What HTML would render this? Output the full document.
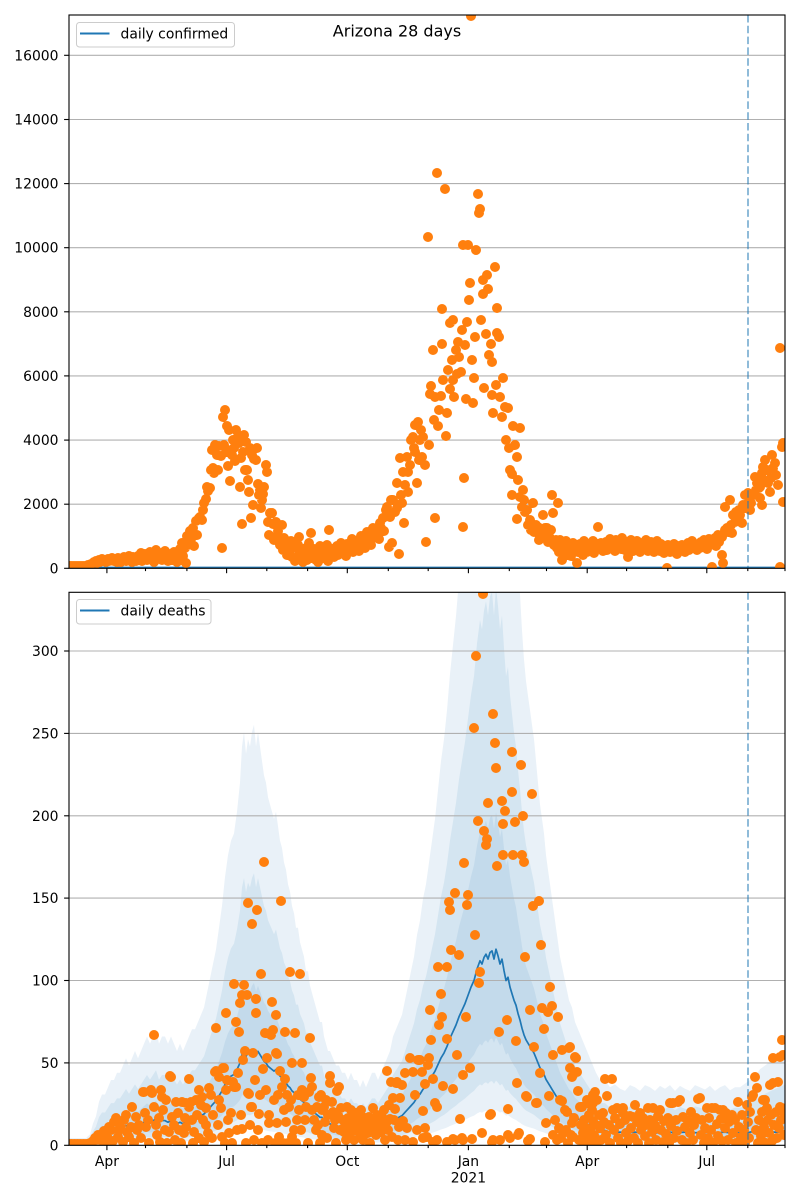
<!DOCTYPE html>
<html><head><meta charset="utf-8"><style>
html,body{margin:0;padding:0;background:#fff}
svg{display:block}
text{font-family:"DejaVu Sans","Liberation Sans",sans-serif;fill:#000}
</style></head><body>
<svg width="800" height="1200" viewBox="0 0 800 1200" xmlns="http://www.w3.org/2000/svg">
<defs>
<clipPath id="c1"><rect x="69" y="15" width="716" height="553.3"/></clipPath>
<clipPath id="c2"><rect x="69" y="592.3" width="716" height="553"/></clipPath>
<path id="band" d="M69,-1 L78,-1 L86,-1 L90,-1.5 L93,-3 L96,-4 L99,-6 L102,-7 L105,-7 L108,-8 L111,-9 L114,-9 L117,-10 L120,-10 L123,-11 L126,-12 L129,-11 L132,-12 L135,-13 L138,-12 L141,-13 L144,-14 L147,-15 L150,-14 L153,-15 L156,-16 L159,-14 L162,-15 L165,-15 L168,-14 L171,-15 L174,-14 L177,-13 L180,-14 L183,-13 L186,-14 L189,-15 L192,-16 L195,-16 L198,-17 L201,-18 L204,-19 L207,-21 L210,-23 L213,-25 L216,-27 L219,-30 L222,-33 L225,-37 L228,-40 L231,-42 L234,-43 L237,-46 L240,-50 L242,-55 L244,-57 L246,-54 L248,-56 L250,-55 L252,-57 L254,-58 L256,-55 L258,-57 L260,-55 L262,-53 L264,-51 L266,-50 L268,-48 L270,-47 L272,-46 L274,-45 L276,-46 L278,-44 L280,-42 L282,-41 L284,-39 L286,-38 L288,-36 L290,-35 L292,-33 L294,-32 L296,-30 L298,-30 L300,-28 L302,-27 L304,-26 L306,-24 L308,-24 L310,-22 L312,-21 L314,-20 L316,-19 L318,-18 L320,-17 L322,-17 L324,-15 L326,-14 L328,-13 L330,-13 L333,-12 L336,-11 L339,-11 L342,-10 L345,-10 L348,-9 L351,-10 L354,-9 L357,-9 L360,-8 L363,-9 L366,-8 L369,-9 L372,-10 L375,-10 L378,-9 L381,-10 L384,-11 L387,-12 L390,-13 L393,-15 L396,-16 L399,-17 L402,-18 L405,-20 L408,-22 L411,-24 L414,-26 L417,-29 L420,-31 L423,-34 L426,-36 L429,-39 L432,-42 L435,-45 L438,-49 L441,-53 L444,-56 L447,-60 L450,-65 L453,-69 L456,-73 L459,-78 L462,-82 L465,-86 L468,-91 L471,-96 L474,-100 L477,-107 L480,-112 L482,-110 L484,-114 L486,-116 L488,-113 L490,-117 L492,-118 L494,-113 L496,-119 L498,-115 L500,-110 L502,-113 L504,-106 L506,-100 L508,-102 L510,-96 L512,-92 L514,-88 L516,-85 L518,-80 L520,-76 L522,-71 L524,-67 L526,-64 L528,-62 L530,-60 L532,-58 L534,-56 L536,-53 L538,-50 L540,-47 L542,-45 L544,-43 L546,-40 L548,-38 L550,-36 L552,-34 L554,-32 L556,-30 L558,-28 L560,-26 L563,-24 L566,-22 L569,-20 L572,-19 L575,-17 L578,-16 L581,-15 L584,-14 L587,-13 L590,-12 L593,-11 L596,-10 L600,-9 L605,-9 L610,-8 L615,-8.4 L620,-7.8 L625,-7.5 L630,-8.3 L635,-8 L640,-7.5 L645,-8.3 L650,-8 L655,-7.5 L660,-8.2 L665,-7.8 L670,-8.3 L675,-7.5 L680,-8.2 L685,-7.8 L690,-7.5 L695,-8.3 L700,-8 L705,-7.7 L710,-8.2 L715,-7.5 L720,-8 L725,-8.3 L730,-7.6 L735,-8 L740,-8 L745,-8.5 L750,-9 L755,-9.5 L760,-10.5 L765,-11 L770,-11.5 L775,-12 L780,-12.5 L786,-13 L786,0 L69,0 Z"/>
</defs>

<rect width="800" height="1200" fill="#fff"/>

<!-- ============ TOP PANEL ============ -->
<g stroke="#b0b0b0" stroke-width="1.1">
<line x1="69" x2="785" y1="504.2" y2="504.2"/>
<line x1="69" x2="785" y1="440.1" y2="440.1"/>
<line x1="69" x2="785" y1="375.9" y2="375.9"/>
<line x1="69" x2="785" y1="311.8" y2="311.8"/>
<line x1="69" x2="785" y1="247.7" y2="247.7"/>
<line x1="69" x2="785" y1="183.6" y2="183.6"/>
<line x1="69" x2="785" y1="119.5" y2="119.5"/>
<line x1="69" x2="785" y1="55.3" y2="55.3"/>
</g>
<g clip-path="url(#c1)">
<line x1="69" x2="785" y1="567.4" y2="567.4" stroke="#1f77b4" stroke-width="1.6"/>
<path fill="none" stroke="#ff7f0e" stroke-width="10" stroke-linecap="round" d="M70 566h.01M72 566h.01M74 566h.01M76 566h.01M78 566h.01M80 566h.01M82 566h.01M84 566h.01M86 566h.01M88 565h.01M90 565h.01M91 564h.01M93 563h.01M94 562h.01M96 561h.01M97 563h.01M99 560h.01M100 562h.01M102 559h.01M103 561h.01M105 560h.01M106 562h.01M108 559h.01M109 561h.01M111 560h.01M112 558h.01M114 561h.01M115 559h.01M117 562h.01M118 558h.01M120 560h.01M121 562h.01M123 559h.01M124 557h.01M126 561h.01M127 559h.01M129 556h.01M130 560h.01M132 562h.01M133 557h.01M135 559h.01M136 561h.01M138 556h.01M139 559h.01M141 553h.01M142 561h.01M144 557h.01M145 554h.01M147 560h.01M148 556h.01M150 552h.01M151 558h.01M153 555h.01M154 562h.01M156 550h.01M157 556h.01M159 558h.01M160 553h.01M162 560h.01M163 555h.01M165 551h.01M166 557h.01M168 561h.01M169 554h.01M171 556h.01M172 560h.01M174 552h.01M175 557h.01M177 562h.01M178 555h.01M180 549h.01M181 560h.01M182 543h.01M183 556h.01M185 548h.01M186 563h.01M187 536h.01M188 545h.01M190 531h.01M191 539h.01M193 528h.01M194 546h.01M196 521h.01M197 535h.01M199 518h.01M200 517h.01M202 520h.01M203 510h.01M204 503h.01M206 499h.01M207 487h.01M208 491h.01M210 488h.01M211 470h.01M212 450h.01M213 468h.01M214 473h.01M215 445h.01M217 455h.01M218 470h.01M219 446h.01M221 456h.01M222 548h.01M223 417h.01M224 445h.01M225 410h.01M226 452h.01M227 426h.01M228 466h.01M229 430h.01M230 481h.01M231 450h.01M232 455h.01M233 440h.01M234 448h.01M235 461h.01M236 430h.01M237 438h.01M239 443h.01M240 487h.01M241 458h.01M242 524h.01M243 452h.01M244 435h.01M245 470h.01M246 442h.01M247 470h.01M248 480h.01M249 492h.01M250 448h.01M251 518h.01M252 455h.01M253 505h.01M254 459h.01M256 460h.01M257 448h.01M258 484h.01M259 495h.01M260 490h.01M261 508h.01M262 500h.01M263 494h.01M264 487h.01M266 465h.01M267 472h.01M268 522h.01M269 535h.01M270 513h.01M272 513h.01M273 524h.01M274 540h.01M276 522h.01M277 537h.01M278 531h.01M279 537h.01M280 545h.01M282 525h.01M283 550h.01M284 538h.01M286 544h.01M287 555h.01M288 547h.01M290 552h.01M291 541h.01M292 557h.01M294 548h.01M295 561h.01M296 560h.01M298 545h.01M299 537h.01M300 553h.01M302 550h.01M303 562h.01M304 556h.01M306 548h.01M307 560h.01M309 543h.01M310 555h.01M311 533h.01M313 558h.01M314 549h.01M316 560h.01M317 551h.01M318 562h.01M320 546h.01M321 556h.01M322 548h.01M324 558h.01M325 552h.01M327 545h.01M328 561h.01M329 530h.01M331 554h.01M332 549h.01M334 557h.01M335 552h.01M337 546h.01M338 555h.01M340 549h.01M341 543h.01M343 553h.01M344 547h.01M346 556h.01M347 544h.01M349 550h.01M350 545h.01M352 539h.01M353 552h.01M355 541h.01M356 547h.01M358 543h.01M359 551h.01M361 536h.01M362 545h.01M364 540h.01M365 548h.01M367 532h.01M368 542h.01M370 538h.01M371 545h.01M373 528h.01M374 537h.01M376 534h.01M377 530h.01M379 539h.01M380 523h.01M381 528h.01M383 518h.01M384 531h.01M386 510h.01M387 507h.01M389 547h.01M390 517h.01M391 500h.01M392 543h.01M393 500h.01M395 512h.01M397 483h.01M397 508h.01M399 554h.01M400 458h.01M401 495h.01M402 503h.01M403 472h.01M404 523h.01M405 485h.01M407 457h.01M408 472h.01M408 492h.01M410 465h.01M411 440h.01M413 437h.01M414 448h.01M415 425h.01M415 452h.01M417 483h.01M418 422h.01M419 460h.01M420 440h.01M421 430h.01M422 457h.01M423 437h.01M425 465h.01M426 542h.01M428 237h.01M429 445h.01M430 394h.01M431 386h.01M433 350h.01M434 420h.01M435 397h.01M435 518h.01M437 173h.01M438 426h.01M439 410h.01M441 396h.01M442 344h.01M442 309h.01M443 380h.01M445 189h.01M446 436h.01M447 413h.01M448 370h.01M450 323h.01M450 389h.01M452 360h.01M453 320h.01M453 380h.01M454 397h.01M456 350h.01M457 374h.01M458 342h.01M459 357h.01M461 372h.01M462 330h.01M463 245h.01M463 527h.01M464 478h.01M465 345h.01M466 399h.01M467 322h.01M468 245h.01M469 300h.01M470 283h.01M471 16h.01M472 360h.01M473 403h.01M474 378h.01M475 337h.01M476 250h.01M478 194h.01M479 213h.01M480 209h.01M481 320h.01M483 280h.01M483 294h.01M484 388h.01M486 334h.01M487 275h.01M488 289h.01M489 355h.01M491 344h.01M492 362h.01M492 395h.01M493 413h.01M495 267h.01M496 385h.01M497 308h.01M497 333h.01M499 337h.01M500 397h.01M502 417h.01M503 378h.01M505 407h.01M506 440h.01M508 408h.01M509 448h.01M510 470h.01M512 474h.01M512 495h.01M513 426h.01M515 445h.01M517 457h.01M517 519h.01M518 480h.01M520 428h.01M520 497h.01M522 507h.01M523 490h.01M524 500h.01M525 512h.01M527 510h.01M528 525h.01M530 520h.01M531 530h.01M533 503h.01M534 532h.01M536 525h.01M538 527h.01M539 540h.01M540 537h.01M541 530h.01M543 515h.01M544 535h.01M545 528h.01M547 528h.01M548 542h.01M550 538h.01M551 530h.01M552 495h.01M553 513h.01M554 545h.01M556 540h.01M557 548h.01M558 503h.01M559 552h.01M560 540h.01M561 548h.01M562 560h.01M563 545h.01M565 550h.01M566 541h.01M567 555h.01M569 549h.01M570 545h.01M571 556h.01M573 543h.01M574 550h.01M576 546h.01M577 563h.01M578 552h.01M580 544h.01M581 549h.01M583 555h.01M584 541h.01M586 547h.01M587 552h.01M589 544h.01M590 550h.01M592 546h.01M593 541h.01M594 553h.01M596 548h.01M597 544h.01M598 527h.01M600 549h.01M601 543h.01M603 551h.01M604 546h.01M606 542h.01M607 550h.01M609 545h.01M610 539h.01M612 548h.01M613 544h.01M615 551h.01M616 540h.01M618 547h.01M619 543h.01M621 549h.01M622 538h.01M624 545h.01M625 550h.01M627 542h.01M628 557h.01M630 546h.01M631 540h.01M633 551h.01M634 544h.01M636 548h.01M637 541h.01M639 546h.01M640 552h.01M642 543h.01M643 549h.01M645 545h.01M646 540h.01M648 551h.01M649 546h.01M651 542h.01M652 549h.01M654 552h.01M655 545h.01M657 541h.01M658 548h.01M660 551h.01M661 544h.01M663 547h.01M664 553h.01M666 549h.01M667 568h.01M668 545h.01M670 552h.01M671 547h.01M673 550h.01M674 544h.01M676 549h.01M677 554h.01M679 546h.01M680 551h.01M682 545h.01M683 549h.01M685 552h.01M686 547h.01M688 543h.01M689 550h.01M691 546h.01M692 541h.01M694 548h.01M695 544h.01M697 550h.01M698 545h.01M700 548h.01M701 542h.01M703 546h.01M704 540h.01M706 544h.01M707 549h.01M709 539h.01M710 545h.01M712 567h.01M713 541h.01M715 538h.01M716 546h.01M718 535h.01M719 542h.01M720 537h.01M722 555h.01M722 537h.01M723 563h.01M725 507h.01M725 530h.01M727 528h.01M728 532h.01M730 500h.01M731 525h.01M732 533h.01M733 515h.01M735 522h.01M736 512h.01M737 520h.01M739 510h.01M740 515h.01M742 523h.01M743 505h.01M745 495h.01M746 508h.01M748 493h.01M749 500h.01M750 510h.01M751 503h.01M753 495h.01M755 477h.01M756 490h.01M757 483h.01M759 488h.01M760 487h.01M760 498h.01M762 473h.01M762 505h.01M763 467h.01M764 480h.01M765 460h.01M767 470h.01M768 483h.01M770 492h.01M771 478h.01M772 455h.01M773 468h.01M775 463h.01M776 475h.01M778 485h.01M780 348h.01M780 567h.01M782 447h.01M783 443h.01M783 502h.01"/>
</g>

<!-- ============ BOTTOM PANEL ============ -->
<g clip-path="url(#c2)">
<g transform="translate(0,1145.3)">
<use href="#band" fill="#e9f1f8" transform="scale(1,7.25)"/>
<use href="#band" fill="#d4e5f1" transform="scale(1,4.69)"/>
<use href="#band" fill="#c3daeb" transform="scale(1,2.8)"/>
<use href="#band" fill="#d4e5f1" transform="scale(1,0.906)"/>
<use href="#band" fill="#e9f1f8" transform="scale(1,0.544)"/>
<use href="#band" fill="#ffffff" transform="scale(1,0.297)"/>
</g>
<g stroke="#b0b0b0" stroke-width="1.1">
<line x1="69" x2="785" y1="1062.9" y2="1062.9"/>
<line x1="69" x2="785" y1="980.5" y2="980.5"/>
<line x1="69" x2="785" y1="898.1" y2="898.1"/>
<line x1="69" x2="785" y1="815.8" y2="815.8"/>
<line x1="69" x2="785" y1="733.4" y2="733.4"/>
<line x1="69" x2="785" y1="651.0" y2="651.0"/>
</g>
<path fill="none" stroke="#1f77b4" stroke-width="1.7" vector-effect="non-scaling-stroke" stroke-linejoin="round" transform="translate(0,1145.3) scale(1,1.6477)" d="M69,-1 L78,-1 L86,-1 L90,-1.5 L93,-3 L96,-4 L99,-6 L102,-7 L105,-7 L108,-8 L111,-9 L114,-9 L117,-10 L120,-10 L123,-11 L126,-12 L129,-11 L132,-12 L135,-13 L138,-12 L141,-13 L144,-14 L147,-15 L150,-14 L153,-15 L156,-16 L159,-14 L162,-15 L165,-15 L168,-14 L171,-15 L174,-14 L177,-13 L180,-14 L183,-13 L186,-14 L189,-15 L192,-16 L195,-16 L198,-17 L201,-18 L204,-19 L207,-21 L210,-23 L213,-25 L216,-27 L219,-30 L222,-33 L225,-37 L228,-40 L231,-42 L234,-43 L237,-46 L240,-50 L242,-55 L244,-57 L246,-54 L248,-56 L250,-55 L252,-57 L254,-58 L256,-55 L258,-57 L260,-55 L262,-53 L264,-51 L266,-50 L268,-48 L270,-47 L272,-46 L274,-45 L276,-46 L278,-44 L280,-42 L282,-41 L284,-39 L286,-38 L288,-36 L290,-35 L292,-33 L294,-32 L296,-30 L298,-30 L300,-28 L302,-27 L304,-26 L306,-24 L308,-24 L310,-22 L312,-21 L314,-20 L316,-19 L318,-18 L320,-17 L322,-17 L324,-15 L326,-14 L328,-13 L330,-13 L333,-12 L336,-11 L339,-11 L342,-10 L345,-10 L348,-9 L351,-10 L354,-9 L357,-9 L360,-8 L363,-9 L366,-8 L369,-9 L372,-10 L375,-10 L378,-9 L381,-10 L384,-11 L387,-12 L390,-13 L393,-15 L396,-16 L399,-17 L402,-18 L405,-20 L408,-22 L411,-24 L414,-26 L417,-29 L420,-31 L423,-34 L426,-36 L429,-39 L432,-42 L435,-45 L438,-49 L441,-53 L444,-56 L447,-60 L450,-65 L453,-69 L456,-73 L459,-78 L462,-82 L465,-86 L468,-91 L471,-96 L474,-100 L477,-107 L480,-112 L482,-110 L484,-114 L486,-116 L488,-113 L490,-117 L492,-118 L494,-113 L496,-119 L498,-115 L500,-110 L502,-113 L504,-106 L506,-100 L508,-102 L510,-96 L512,-92 L514,-88 L516,-85 L518,-80 L520,-76 L522,-71 L524,-67 L526,-64 L528,-62 L530,-60 L532,-58 L534,-56 L536,-53 L538,-50 L540,-47 L542,-45 L544,-43 L546,-40 L548,-38 L550,-36 L552,-34 L554,-32 L556,-30 L558,-28 L560,-26 L563,-24 L566,-22 L569,-20 L572,-19 L575,-17 L578,-16 L581,-15 L584,-14 L587,-13 L590,-12 L593,-11 L596,-10 L600,-9 L605,-9 L610,-8 L620,-8 L625,-7.5 L635,-8 L640,-7.5 L650,-8 L655,-7.5 L670,-8 L675,-7.5 L685,-8 L690,-7.5 L710,-8 L715,-7.5 L725,-8 L730,-7.5 L750,-8 L755,-8.5 L760,-8 L786,-8"/>
<path fill="none" stroke="#ff7f0e" stroke-width="10" stroke-linecap="round" d="M69 1144h.01M71 1144h.01M72 1144h.01M74 1144h.01M75 1144h.01M77 1144h.01M78 1144h.01M80 1144h.01M81 1144h.01M83 1144h.01M84 1144h.01M86 1144h.01M87 1144h.01M89 1144h.01M90 1143h.01M93 1141h.01M95 1138h.01M96 1140h.01M98 1135h.01M100 1140h.01M102 1137h.01M104 1131h.01M105 1143h.01M107 1135h.01M109 1127h.01M111 1130h.01M113 1141h.01M114 1122h.01M116 1118h.01M118 1137h.01M119 1130h.01M121 1125h.01M123 1142h.01M124 1120h.01M126 1115h.01M127 1132h.01M129 1137h.01M131 1127h.01M132 1107h.01M134 1143h.01M136 1117h.01M137 1130h.01M139 1125h.01M141 1138h.01M143 1092h.01M144 1092h.01M145 1113h.01M146 1127h.01M148 1120h.01M149 1143h.01M151 1090h.01M152 1093h.01M154 1035h.01M154 1107h.01M156 1125h.01M157 1135h.01M159 1118h.01M160 1142h.01M161 1090h.01M162 1097h.01M163 1110h.01M165 1130h.01M166 1100h.01M167 1143h.01M169 1132h.01M170 1076h.01M171 1077h.01M172 1117h.01M174 1125h.01M175 1140h.01M176 1102h.01M178 1113h.01M179 1130h.01M181 1143h.01M182 1102h.01M184 1133h.01M185 1118h.01M186 1103h.01M186 1127h.01M189 1079h.01M189 1107h.01M191 1102h.01M192 1120h.01M193 1143h.01M194 1132h.01M196 1100h.01M197 1115h.01M199 1090h.01M199 1138h.01M201 1105h.01M202 1097h.01M203 1120h.01M204 1142h.01M206 1108h.01M206 1125h.01M208 1133h.01M209 1088h.01M211 1095h.01M212 1138h.01M213 1115h.01M215 1072h.01M216 1028h.01M216 1071h.01M218 1125h.01M219 1077h.01M219 1100h.01M221 1108h.01M222 1137h.01M223 1068h.01M224 1068h.01M225 1143h.01M226 1013h.01M226 1090h.01M227 1080h.01M228 1120h.01M229 1133h.01M231 1113h.01M232 1143h.01M233 1082h.01M234 984h.01M234 1087h.01M236 1022h.01M236 1087h.01M237 1130h.01M238 1073h.01M239 1032h.01M240 1003h.01M241 1115h.01M242 995h.01M242 1129h.01M243 1060h.01M244 985h.01M245 1051h.01M246 1143h.01M247 995h.01M248 903h.01M248 1093h.01M249 1094h.01M250 1125h.01M251 1107h.01M252 924h.01M252 1107h.01M253 1053h.01M254 1140h.01M255 1080h.01M256 999h.01M256 1013h.01M257 910h.01M258 1130h.01M259 1114h.01M260 1095h.01M261 974h.01M262 1143h.01M263 1069h.01M264 862h.01M265 1033h.01M266 1090h.01M267 1058h.01M268 1140h.01M269 1115h.01M269 1123h.01M271 1035h.01M272 1002h.01M273 1030h.01M274 1100h.01M275 1143h.01M276 1015h.01M276 1053h.01M277 1054h.01M277 1123h.01M278 1095h.01M279 1137h.01M280 1071h.01M281 901h.01M282 1087h.01M283 1143h.01M284 1110h.01M285 1032h.01M285 1079h.01M286 1122h.01M287 1095h.01M288 1143h.01M289 1107h.01M290 972h.01M291 1100h.01M292 1063h.01M292 1137h.01M294 1130h.01M295 1033h.01M296 1143h.01M297 1120h.01M298 1095h.01M299 1110h.01M300 974h.01M301 1130h.01M302 1063h.01M302 1090h.01M304 1097h.01M305 1120h.01M306 1107h.01M308 1143h.01M309 1092h.01M310 1038h.01M311 1078h.01M312 1087h.01M312 1110h.01M314 1120h.01M316 1130h.01M317 1107h.01M318 1125h.01M319 1097h.01M320 1143h.01M321 1095h.01M322 1110h.01M322 1135h.01M324 1107h.01M325 1122h.01M326 1100h.01M327 1138h.01M328 1115h.01M330 1076h.01M330 1083h.01M332 1102h.01M333 1112h.01M334 1128h.01M335 1120h.01M336 1143h.01M337 1091h.01M338 1115h.01M339 1087h.01M340 1130h.01M341 1108h.01M343 1120h.01M344 1132h.01M345 1125h.01M346 1140h.01M347 1107h.01M348 1118h.01M349 1133h.01M351 1110h.01M352 1127h.01M353 1120h.01M354 1140h.01M355 1130h.01M356 1113h.01M357 1125h.01M359 1118h.01M360 1133h.01M361 1110h.01M362 1123h.01M363 1140h.01M364 1128h.01M365 1118h.01M367 1125h.01M368 1133h.01M369 1117h.01M370 1143h.01M371 1120h.01M372 1130h.01M373 1108h.01M375 1122h.01M376 1135h.01M377 1115h.01M379 1125h.01M380 1121h.01M381 1132h.01M382 1117h.01M383 1128h.01M384 1110h.01M385 1140h.01M386 1123h.01M387 1071h.01M388 1130h.01M389 1105h.01M390 1119h.01M391 1082h.01M392 1137h.01M393 1098h.01M394 1120h.01M395 1109h.01M396 1083h.01M397 1082h.01M398 1140h.01M399 1127h.01M400 1098h.01M402 1085h.01M403 1121h.01M405 1073h.01M405 1140h.01M407 1128h.01M410 1058h.01M413 1072h.01M413 1142h.01M415 1095h.01M417 1130h.01M418 1060h.01M420 1060h.01M422 1072h.01M423 1111h.01M423 1138h.01M425 1084h.01M425 1128h.01M427 1137h.01M428 1065h.01M429 1058h.01M430 1010h.01M431 1040h.01M433 1079h.01M433 1142h.01M435 1103h.01M437 1107h.01M437 1140h.01M438 967h.01M439 1025h.01M441 994h.01M442 1017h.01M443 1086h.01M447 967h.01M447 1039h.01M447 1142h.01M449 902h.01M450 910h.01M451 950h.01M453 1089h.01M453 1139h.01M455 893h.01M455 1140h.01M457 1055h.01M459 955h.01M460 1119h.01M462 1138h.01M463 1075h.01M463 1140h.01M464 863h.01M466 1017h.01M467 905h.01M468 895h.01M470 1068h.01M472 1139h.01M474 728h.01M475 935h.01M476 656h.01M478 821h.01M479 983h.01M480 972h.01M482 1133h.01M483 594h.01M484 831h.01M486 845h.01M487 839h.01M488 803h.01M490 1115h.01M491 1114h.01M492 1142h.01M493 714h.01M493 1140h.01M495 743h.01M496 768h.01M497 866h.01M499 1032h.01M500 1140h.01M502 801h.01M503 824h.01M503 855h.01M505 811h.01M507 1020h.01M508 1109h.01M508 1135h.01M510 1138h.01M512 752h.01M512 792h.01M513 855h.01M515 822h.01M516 1041h.01M517 1083h.01M518 1135h.01M519 1133h.01M521 765h.01M522 855h.01M523 816h.01M524 862h.01M525 957h.01M526 1096h.01M527 1097h.01M528 1141h.01M530 1010h.01M530 1139h.01M532 794h.01M533 906h.01M534 1047h.01M536 1103h.01M537 1103h.01M539 901h.01M540 1073h.01M541 945h.01M542 1008h.01M544 1029h.01M545 1142h.01M546 1123h.01M548 1012h.01M549 1096h.01M550 987h.01M552 1006h.01M553 1055h.01M553 1135h.01M555 1120h.01M557 1140h.01M558 1017h.01M559 1128h.01M560 1100h.01M561 1138h.01M562 1050h.01M562 1101h.01M563 1133h.01M565 1110h.01M566 1130h.01M567 1112h.01M568 1143h.01M569 1048h.01M570 1047h.01M570 1068h.01M571 1135h.01M572 1077h.01M572 1123h.01M573 1075h.01M573 1137h.01M574 1118h.01M575 1057h.01M576 1058h.01M577 1072h.01M578 1091h.01M579 1140h.01M580 1107h.01M581 1125h.01M582 1107h.01M583 1133h.01M584 1120h.01M585 1143h.01M586 1128h.01M587 1100h.01M587 1103h.01M588 1139h.01M589 1115h.01M590 1130h.01M591 1143h.01M592 1110h.01M593 1095h.01M593 1103h.01M593 1121h.01M594 1135h.01M595 1092h.01M596 1125h.01M597 1100h.01M598 1143h.01M599 1115h.01M600 1128h.01M601 1140h.01M603 1113h.01M604 1122h.01M605 1079h.01M606 1135h.01M607 1096h.01M609 1125h.01M610 1143h.01M612 1079h.01M613 1110h.01M614 1130h.01M615 1118h.01M617 1108h.01M618 1138h.01M620 1124h.01M621 1143h.01M623 1108h.01M623 1113h.01M625 1120h.01M626 1133h.01M628 1141h.01M630 1116h.01M631 1128h.01M633 1117h.01M634 1138h.01M635 1105h.01M637 1122h.01M638 1143h.01M640 1113h.01M641 1130h.01M643 1118h.01M645 1136h.01M646 1125h.01M648 1108h.01M649 1143h.01M650 1120h.01M652 1132h.01M653 1108h.01M655 1125h.01M656 1140h.01M658 1116h.01M660 1110h.01M661 1130h.01M663 1142h.01M664 1121h.01M666 1134h.01M668 1118h.01M669 1143h.01M670 1103h.01M671 1126h.01M673 1103h.01M674 1138h.01M676 1120h.01M677 1131h.01M678 1102h.01M680 1100h.01M682 1140h.01M683 1117h.01M685 1127h.01M686 1143h.01M688 1121h.01M690 1133h.01M691 1112h.01M693 1140h.01M694 1125h.01M696 1118h.01M698 1099h.01M700 1098h.01M701 1135h.01M702 1120h.01M704 1143h.01M705 1128h.01M707 1108h.01M708 1138h.01M709 1118h.01M711 1130h.01M712 1108h.01M713 1143h.01M715 1108h.01M717 1124h.01M718 1136h.01M720 1110h.01M721 1119h.01M722 1141h.01M723 1110h.01M725 1128h.01M726 1113h.01M728 1140h.01M729 1122h.01M730 1117h.01M732 1115h.01M733 1133h.01M735 1120h.01M736 1143h.01M738 1102h.01M739 1127h.01M741 1137h.01M742 1115h.01M744 1130h.01M745 1143h.01M747 1105h.01M748 1122h.01M749 1138h.01M750 1112h.01M752 1097h.01M753 1095h.01M755 1077h.01M756 1130h.01M757 1088h.01M758 1143h.01M759 1120h.01M761 1136h.01M762 1112h.01M763 1100h.01M764 1127h.01M765 1100h.01M766 1143h.01M767 1108h.01M768 1120h.01M769 1133h.01M770 1085h.01M771 1115h.01M772 1141h.01M773 1058h.01M773 1083h.01M774 1125h.01M776 1112h.01M777 1138h.01M778 1082h.01M779 1128h.01M780 1057h.01M780 1107h.01M781 1120h.01M782 1040h.01M782 1108h.01M783 1055h.01M784 1135h.01M785 1115h.01"/>
</g>

<!-- dashed forecast line -->
<g stroke="#1f77b4" stroke-opacity="0.5" stroke-width="2" stroke-dasharray="7.5,3.3">
<line x1="748" x2="748" y1="15" y2="568.3"/>
<line x1="748" x2="748" y1="592.3" y2="1145.3"/>
</g>

<!-- spines -->
<g fill="none" stroke="#000" stroke-width="1.1">
<rect x="69" y="15" width="716" height="553.3"/>
<rect x="69" y="592.3" width="716" height="553"/>
</g>

<!-- ticks -->
<g stroke="#000" stroke-width="1.1">
<line x1="64.1" x2="69" y1="568.3" y2="568.3"/>
<line x1="64.1" x2="69" y1="504.2" y2="504.2"/>
<line x1="64.1" x2="69" y1="440.1" y2="440.1"/>
<line x1="64.1" x2="69" y1="375.9" y2="375.9"/>
<line x1="64.1" x2="69" y1="311.8" y2="311.8"/>
<line x1="64.1" x2="69" y1="247.7" y2="247.7"/>
<line x1="64.1" x2="69" y1="183.6" y2="183.6"/>
<line x1="64.1" x2="69" y1="119.5" y2="119.5"/>
<line x1="64.1" x2="69" y1="55.3" y2="55.3"/>
<line x1="64.1" x2="69" y1="1145.3" y2="1145.3"/>
<line x1="64.1" x2="69" y1="1062.9" y2="1062.9"/>
<line x1="64.1" x2="69" y1="980.5" y2="980.5"/>
<line x1="64.1" x2="69" y1="898.1" y2="898.1"/>
<line x1="64.1" x2="69" y1="815.8" y2="815.8"/>
<line x1="64.1" x2="69" y1="733.4" y2="733.4"/>
<line x1="64.1" x2="69" y1="651.0" y2="651.0"/>
<line x1="106.9" x2="106.9" y1="568.3" y2="573.2"/>
<line x1="226.6" x2="226.6" y1="568.3" y2="573.2"/>
<line x1="347.3" x2="347.3" y1="568.3" y2="573.2"/>
<line x1="468.4" x2="468.4" y1="568.3" y2="573.2"/>
<line x1="587.2" x2="587.2" y1="568.3" y2="573.2"/>
<line x1="706.8" x2="706.8" y1="568.3" y2="573.2"/>
<line x1="145.5" x2="145.5" y1="568.3" y2="571.1"/>
<line x1="186.9" x2="186.9" y1="568.3" y2="571.1"/>
<line x1="266.8" x2="266.8" y1="568.3" y2="571.1"/>
<line x1="307.6" x2="307.6" y1="568.3" y2="571.1"/>
<line x1="388.3" x2="388.3" y1="568.3" y2="571.1"/>
<line x1="428.2" x2="428.2" y1="568.3" y2="571.1"/>
<line x1="509.3" x2="509.3" y1="568.3" y2="571.1"/>
<line x1="546.5" x2="546.5" y1="568.3" y2="571.1"/>
<line x1="626.6" x2="626.6" y1="568.3" y2="571.1"/>
<line x1="667.8" x2="667.8" y1="568.3" y2="571.1"/>
<line x1="747.8" x2="747.8" y1="568.3" y2="571.1"/>
<line x1="785" x2="785" y1="568.3" y2="571.1"/>
<line x1="106.9" x2="106.9" y1="1145.3" y2="1150.2"/>
<line x1="226.6" x2="226.6" y1="1145.3" y2="1150.2"/>
<line x1="347.3" x2="347.3" y1="1145.3" y2="1150.2"/>
<line x1="468.4" x2="468.4" y1="1145.3" y2="1150.2"/>
<line x1="587.2" x2="587.2" y1="1145.3" y2="1150.2"/>
<line x1="706.8" x2="706.8" y1="1145.3" y2="1150.2"/>
<line x1="145.5" x2="145.5" y1="1145.3" y2="1148.1"/>
<line x1="186.9" x2="186.9" y1="1145.3" y2="1148.1"/>
<line x1="266.8" x2="266.8" y1="1145.3" y2="1148.1"/>
<line x1="307.6" x2="307.6" y1="1145.3" y2="1148.1"/>
<line x1="388.3" x2="388.3" y1="1145.3" y2="1148.1"/>
<line x1="428.2" x2="428.2" y1="1145.3" y2="1148.1"/>
<line x1="509.3" x2="509.3" y1="1145.3" y2="1148.1"/>
<line x1="546.5" x2="546.5" y1="1145.3" y2="1148.1"/>
<line x1="626.6" x2="626.6" y1="1145.3" y2="1148.1"/>
<line x1="667.8" x2="667.8" y1="1145.3" y2="1148.1"/>
<line x1="747.8" x2="747.8" y1="1145.3" y2="1148.1"/>
<line x1="785" x2="785" y1="1145.3" y2="1148.1"/>
</g>

<!-- y tick labels -->
<g font-size="13.9" text-anchor="end">
<text x="58.5" y="573.3">0</text>
<text x="58.5" y="509.2">2000</text>
<text x="58.5" y="445.1">4000</text>
<text x="58.5" y="380.9">6000</text>
<text x="58.5" y="316.8">8000</text>
<text x="58.5" y="252.7">10000</text>
<text x="58.5" y="188.6">12000</text>
<text x="58.5" y="124.5">14000</text>
<text x="58.5" y="60.3">16000</text>
<text x="58.5" y="1150.3">0</text>
<text x="58.5" y="1067.9">50</text>
<text x="58.5" y="985.5">100</text>
<text x="58.5" y="903.1">150</text>
<text x="58.5" y="820.8">200</text>
<text x="58.5" y="738.4">250</text>
<text x="58.5" y="656.0">300</text>
</g>

<!-- x tick labels -->
<g font-size="13.9" text-anchor="middle">
<text x="106.9" y="1166">Apr</text>
<text x="226.6" y="1166">Jul</text>
<text x="347.3" y="1166">Oct</text>
<text x="468.4" y="1166">Jan</text>
<text x="468.4" y="1182.5">2021</text>
<text x="587.2" y="1166">Apr</text>
<text x="706.8" y="1166">Jul</text>
</g>

<!-- legends -->
<rect x="76.5" y="22.5" width="158" height="24.5" rx="3" ry="3" fill="#fff" fill-opacity="0.8" stroke="#cccccc" stroke-width="1"/>
<line x1="80" x2="109.5" y1="33.5" y2="33.5" stroke="#1f77b4" stroke-width="2"/>
<text x="120.5" y="38.6" font-size="13.9">daily confirmed</text>

<rect x="76.5" y="599.5" width="134.5" height="24.5" rx="3" ry="3" fill="#fff" fill-opacity="0.8" stroke="#cccccc" stroke-width="1"/>
<line x1="80" x2="109.5" y1="610.5" y2="610.5" stroke="#1f77b4" stroke-width="2"/>
<text x="120.5" y="615.6" font-size="13.9">daily deaths</text>

<!-- title -->
<text x="397" y="36.3" font-size="16" text-anchor="middle">Arizona 28 days</text>
</svg>
</body></html>
